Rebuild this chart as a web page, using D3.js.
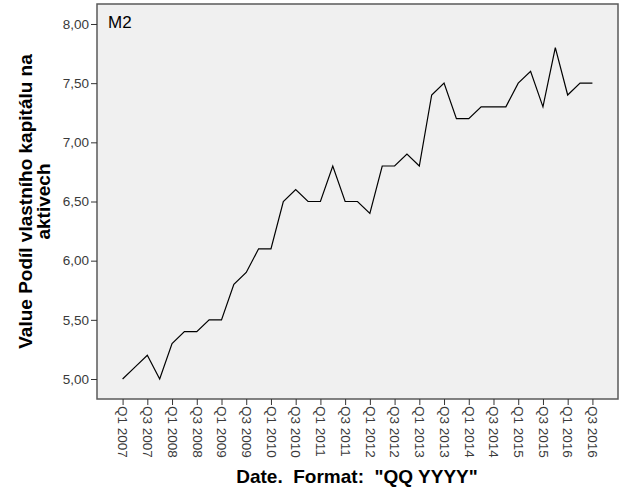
<!DOCTYPE html>
<html>
<head>
<meta charset="utf-8">
<script src="https://cdn.jsdelivr.net/npm/d3@7"></script>
<style>
  html, body { margin: 0; padding: 0; background: #ffffff; }
  svg { display: block; font-family: Arial, "Liberation Sans", sans-serif; }
</style>
</head>
<body>
<svg id="chart" width="626" height="501"></svg>
<script>
const quarters = ["Q1 2007","Q2 2007","Q3 2007","Q4 2007","Q1 2008","Q2 2008","Q3 2008","Q4 2008",
  "Q1 2009","Q2 2009","Q3 2009","Q4 2009","Q1 2010","Q2 2010","Q3 2010","Q4 2010",
  "Q1 2011","Q2 2011","Q3 2011","Q4 2011","Q1 2012","Q2 2012","Q3 2012","Q4 2012",
  "Q1 2013","Q2 2013","Q3 2013","Q4 2013","Q1 2014","Q2 2014","Q3 2014","Q4 2014",
  "Q1 2015","Q2 2015","Q3 2015","Q4 2015","Q1 2016","Q2 2016","Q3 2016"];
const values = [5.0,5.1,5.2,5.0,5.3,5.4,5.4,5.5,
  5.5,5.8,5.9,6.1,6.1,6.5,6.6,6.5,
  6.5,6.8,6.5,6.5,6.4,6.8,6.8,6.9,
  6.8,7.4,7.5,7.2,7.2,7.3,7.3,7.3,
  7.5,7.6,7.3,7.8,7.4,7.5,7.5];
const xTickLabels = quarters.filter((q, i) => i % 2 === 0);
const yTicks = [5.0, 5.5, 6.0, 6.5, 7.0, 7.5, 8.0];
const panelLabel = "M2";
const yTitle = ["Value Podíl vlastního kapitálu na", "aktivech"];
const xTitle = 'Date.  Format:  "QQ YYYY"';

const svg = d3.select("#chart");
const plot = { left: 97, top: 4, right: 618, bottom: 399 };

const x = d3.scalePoint().domain(quarters).range([plot.left, plot.right]).padding(2.07);
const y = d3.scaleLinear().domain([4.831, 8.169]).range([plot.bottom, plot.top]);

// plot background
svg.append("rect")
  .attr("x", plot.left).attr("y", plot.top)
  .attr("width", plot.right - plot.left).attr("height", plot.bottom - plot.top)
  .attr("fill", "#f0f0f0").attr("stroke", "#5a5a5a").attr("stroke-width", 1.5);

// y axis
const fmt = v => v.toFixed(2).replace(".", ",");
const yAxis = svg.append("g")
  .attr("transform", `translate(${plot.left},0)`)
  .call(d3.axisLeft(y).tickValues(yTicks).tickFormat(fmt).tickSize(6).tickPadding(2));
yAxis.select(".domain").remove();
yAxis.selectAll(".tick line").attr("stroke", "#333");
yAxis.selectAll(".tick text").attr("fill", "#3a3a3a").style("font-size", "13.5px")
  .style("font-family", "Arial, 'Liberation Sans', sans-serif");

// x axis
const xAxis = svg.append("g")
  .attr("transform", `translate(0,${plot.bottom})`)
  .call(d3.axisBottom(x).tickValues(xTickLabels).tickSize(6));
xAxis.select(".domain").remove();
xAxis.selectAll(".tick line").attr("stroke", "#333");
xAxis.selectAll(".tick text")
  .attr("fill", "#3a3a3a").style("font-size", "13.5px")
  .style("font-family", "Arial, 'Liberation Sans', sans-serif")
  .attr("transform", "rotate(90)")
  .attr("x", 7).attr("y", 0).attr("dy", "0.35em")
  .attr("text-anchor", "start");

// line
const line = d3.line().x((d, i) => x(quarters[i])).y(d => y(d));
svg.append("path").datum(values)
  .attr("d", line).attr("fill", "none")
  .attr("stroke", "#000").attr("stroke-width", 1.2).attr("stroke-linejoin", "miter");

// panel label
svg.append("text").attr("x", 108).attr("y", 28)
  .style("font-size", "17px").attr("fill", "#000").text(panelLabel);

// y title
const yt = svg.append("text")
  .attr("transform", `translate(32,${(plot.top + plot.bottom) / 2}) rotate(-90)`)
  .attr("text-anchor", "middle")
  .style("font-size", "19px").style("font-weight", "bold").attr("fill", "#000");
yt.selectAll("tspan").data(yTitle).join("tspan")
  .attr("x", 0).attr("dy", (d, i) => i === 0 ? 0 : 18).text(d => d);

// x title
svg.append("text")
  .attr("x", 357).attr("y", 483)
  .attr("text-anchor", "middle")
  .style("font-size", "19px").style("font-weight", "bold").attr("fill", "#000")
  .style("white-space", "pre")
  .text(xTitle);
</script>
</body>
</html>
